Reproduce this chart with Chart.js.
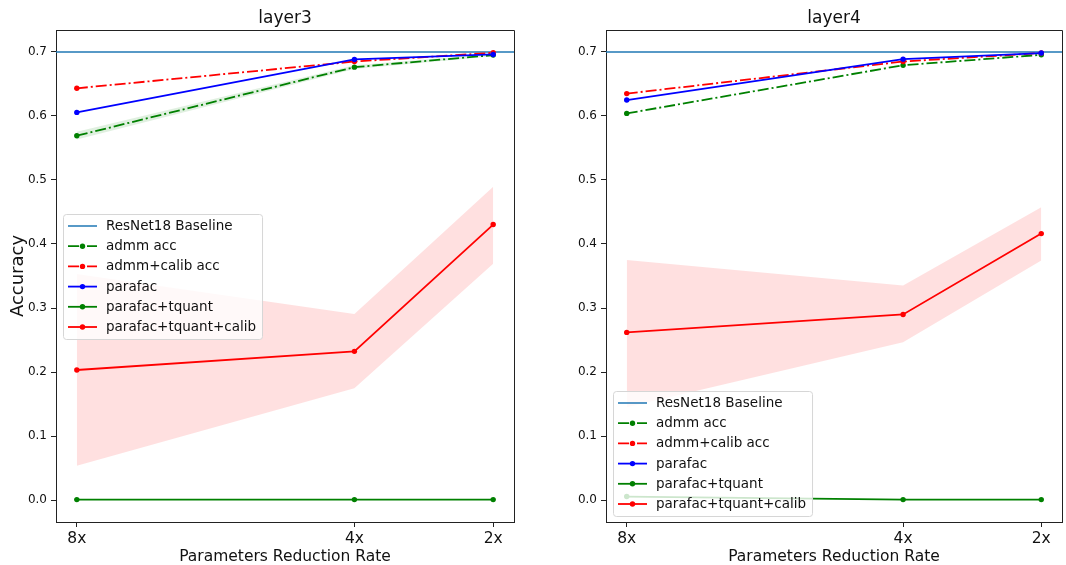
<!DOCTYPE html>
<html>
<head>
<meta charset="utf-8">
<script src="https://cdn.jsdelivr.net/npm/chart.js@4.4.1/dist/chart.umd.min.js"></script>
<style>
    html, body { margin: 0; padding: 0; background: #fff; }
    #wrap { position: relative; width: 1066px; height: 565px; overflow: hidden; }
    .pane { position: absolute; top: 0; width: 533px; height: 565px; }
</style>
</head>
<body>
<div id="wrap">
    <div class="pane" style="left:0"><canvas id="layer3" width="533" height="565"></canvas></div>
    <div class="pane" style="left:533px"><canvas id="layer4" width="533" height="565"></canvas></div>
</div>
<script>
// x positions are the reduction rates (axis reversed), labels get an "x"
const rates = [8, 4, 2];
const yTicks = [0, 0.1, 0.2, 0.3, 0.4, 0.5, 0.6, 0.7];
const baseline = 0.6995;

// layer3
const l3Admm = [0.569, 0.676, 0.6948];
const l3AdmmHi = [0.575, 0.679, 0.6965];
const l3AdmmLo = [0.563, 0.673, 0.693];
const l3AdmmCalib = [0.643, 0.6848, 0.6984];
const l3Parafac = [0.6054, 0.688, 0.6958];
const l3Tquant = [0.001, 0.001, 0.001];
const l3TquantCalib = [0.2033, 0.2324, 0.4303];
const l3CalibHi = [0.353, 0.2907, 0.4893];
const l3CalibLo = [0.054, 0.1747, 0.369];

// layer4
const l4Admm = [0.6038, 0.679, 0.6953];
const l4AdmmCalib = [0.6347, 0.6848, 0.698];
const l4Parafac = [0.6247, 0.6885, 0.698];
const l4Tquant = [0.0057, 0.001, 0.001];
const l4TquantCalib = [0.262, 0.290, 0.4162];
const l4CalibHi = [0.3749, 0.335, 0.4575];
const l4CalibLo = [0.145, 0.2465, 0.3743];

const X_MIN = 1.7, X_MAX = 8.3;
const Y_MIN = -0.034, Y_MAX = 0.734;
const FONT = '"DejaVu Sans", sans-serif';
const INK = '#111';
const DASHDOT = [11, 3, 2, 3];

const pts = ys => rates.map((x, i) => ({ x: x, y: ys[i] }));

function line(label, ys, color, dash) {
    return {
        label: label, data: pts(ys), inLegend: true,
        borderColor: color, backgroundColor: color, borderWidth: 1.8,
        borderDash: dash || [], pointRadius: 2.7, pointBorderWidth: 0,
        pointBackgroundColor: color, fill: false, tension: 0
    };
}

function band(hi, lo, color) {
    const common = { borderColor: 'transparent', borderWidth: 0, pointRadius: 0, tension: 0 };
    return [
        Object.assign({ label: '', data: pts(hi), fill: false }, common),
        Object.assign({ label: '', data: pts(lo), fill: '-1', backgroundColor: color }, common)
    ];
}

function baseSet() {
    return {
        label: 'ResNet18 Baseline', inLegend: true,
        data: [{ x: X_MIN, y: baseline }, { x: X_MAX, y: baseline }],
        borderColor: '#1f77b4', borderWidth: 1.5, pointRadius: 0, fill: false
    };
}

// matplotlib-style axes box + subplot title
const frame = {
    id: 'frame',
    afterDatasetsDraw(chart) {
        const { ctx, chartArea: a } = chart;
        ctx.save();
        ctx.strokeStyle = '#222';
        ctx.lineWidth = 1;
        ctx.beginPath();
        const t = Math.round(a.top - 0.5) + 0.5, r = Math.round(a.right - 0.5) + 0.5;
        ctx.moveTo(a.left, t); ctx.lineTo(r, t); ctx.lineTo(r, a.bottom);
        ctx.stroke();
        ctx.restore();
    },
    afterDraw(chart, args, opts) {
        const { ctx, chartArea: a } = chart;
        ctx.save();
        ctx.font = '17px ' + FONT;
        ctx.fillStyle = INK;
        ctx.textAlign = 'center';
        ctx.textBaseline = 'alphabetic';
        ctx.fillText(opts.title, (a.left + a.right) / 2, 23);
        ctx.restore();
    }
};

// legend drawn inside the axes like matplotlib's
const mplLegend = {
    id: 'mplLegend',
    afterDatasetsDraw(chart, args, opts) {
        const { ctx, chartArea: a } = chart;
        const items = chart.data.datasets.filter(d => d.inLegend);
        ctx.save();
        ctx.font = '13.5px ' + FONT;
        const textW = Math.max(...items.map(d => ctx.measureText(d.label).width));
        const rowH = 20.2;
        const w = 43 + textW + 6, h = 24 + rowH * (items.length - 1);
        const x0 = Math.round(a.left + 7);
        const y0 = Math.round(opts.loc === 'lower left' ? a.bottom - 6 - h : (a.top + a.bottom) / 2 - h / 2);
        ctx.beginPath();
        ctx.roundRect(x0 + 0.5, y0 + 0.5, w, h, 3);
        ctx.fillStyle = 'rgba(255,255,255,0.8)';
        ctx.fill();
        ctx.strokeStyle = '#d6d6d6';
        ctx.lineWidth = 1;
        ctx.stroke();

        items.forEach((d, i) => {
            const y = y0 + 12 + i * rowH;
            ctx.setLineDash(d.borderDash || []);
            ctx.strokeStyle = d.borderColor;
            ctx.lineWidth = d.borderWidth;
            ctx.beginPath();
            ctx.moveTo(x0 + 5, y);
            ctx.lineTo(x0 + 34, y);
            ctx.stroke();
            ctx.setLineDash([]);
            if (d.pointRadius) {
                ctx.fillStyle = d.borderColor;
                ctx.beginPath();
                ctx.arc(x0 + 19.5, y, d.pointRadius, 0, Math.PI * 2);
                ctx.fill();
            }
            ctx.fillStyle = INK;
            ctx.textBaseline = 'middle';
            ctx.fillText(d.label, x0 + 43, y + 0.5);
        });
        ctx.restore();
    }
};

function makeChart(id, title, sets, legendLoc, showYTitle, yWidth, padRight) {
    sets.forEach((s, i) => { s.order = sets.length - i; });
    return new Chart(document.getElementById(id), {
        type: 'line',
        data: { datasets: sets },
        options: {
            responsive: false,
            animation: false,
            layout: { padding: { top: 30, right: padRight, bottom: 0, left: 0 } },
            plugins: {
                legend: { display: false },
                tooltip: { enabled: false },
                frame: { title: title },
                mplLegend: { loc: legendLoc }
            },
            scales: {
                x: {
                    type: 'linear', reverse: true, min: X_MIN, max: X_MAX,
                    afterBuildTicks: s => { s.ticks = rates.map(v => ({ value: v })); },
                    afterFit: s => { s.height = 43; },
                    ticks: {
                        callback: v => v + 'x', color: INK, padding: 3,
                        maxRotation: 0, autoSkip: false, font: { family: FONT, size: 15.5 }
                    },
                    grid: { drawOnChartArea: false, tickLength: 5, tickColor: '#222' },
                    border: { color: '#222', width: 1 },
                    title: {
                        display: true, text: 'Parameters Reduction Rate', color: INK,
                        padding: { top: 0, bottom: 0 }, font: { family: FONT, size: 15.5, lineHeight: 1.1 }
                    }
                },
                y: {
                    min: Y_MIN, max: Y_MAX,
                    afterBuildTicks: s => { s.ticks = yTicks.map(v => ({ value: v })); },
                    afterFit: s => { s.width = yWidth; },
                    ticks: {
                        callback: v => v.toFixed(1), color: INK, padding: 4,
                        font: { family: FONT, size: 12 }
                    },
                    grid: { drawOnChartArea: false, tickLength: 5, tickColor: '#222' },
                    border: { color: '#222', width: 1 },
                    title: {
                        display: showYTitle, text: 'Accuracy', color: INK,
                        padding: { top: 8, bottom: 0 }, font: { family: FONT, size: 18, lineHeight: 1.2 }
                    }
                }
            }
        },
        plugins: [frame, mplLegend]
    });
}

makeChart('layer3', 'layer3', [
    baseSet(),
    ...band(l3AdmmHi, l3AdmmLo, 'rgba(0,128,0,0.12)'),
    line('admm acc', l3Admm, '#008000', DASHDOT),
    line('admm+calib acc', l3AdmmCalib, '#ff0000', DASHDOT),
    line('parafac', l3Parafac, '#0000ff'),
    line('parafac+tquant', l3Tquant, '#008000'),
    ...band(l3CalibHi, l3CalibLo, 'rgba(255,0,0,0.12)'),
    line('parafac+tquant+calib', l3TquantCalib, '#ff0000')
], 'center left', true, 56, 19);

makeChart('layer4', 'layer4', [
    baseSet(),
    line('admm acc', l4Admm, '#008000', DASHDOT),
    line('admm+calib acc', l4AdmmCalib, '#ff0000', DASHDOT),
    line('parafac', l4Parafac, '#0000ff'),
    line('parafac+tquant', l4Tquant, '#008000'),
    ...band(l4CalibHi, l4CalibLo, 'rgba(255,0,0,0.12)'),
    line('parafac+tquant+calib', l4TquantCalib, '#ff0000')
], 'lower left', false, 73, 0);
</script>
</body>
</html>
